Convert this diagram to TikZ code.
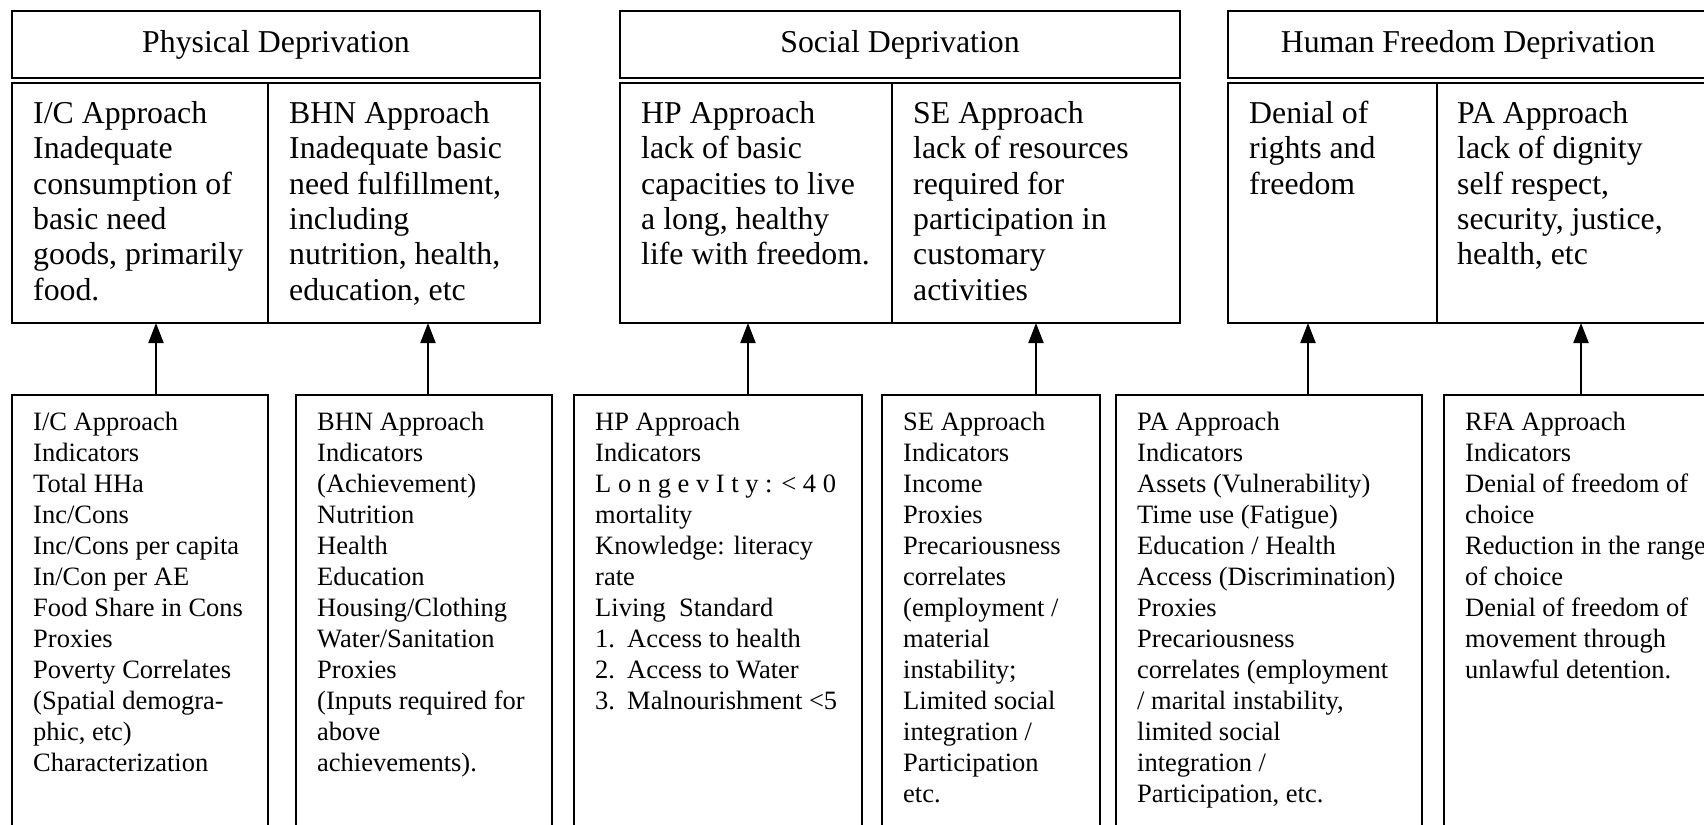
\documentclass[tikz,border=0pt]{standalone}
\usepackage{fontspec}
\setmainfont{Liberation Serif}
\usetikzlibrary{arrows.meta}
\newcommand{\lines}[1]{\begin{tabular}[t]{@{}l@{}}#1\end{tabular}}
\newcommand{\numitem}[2]{\makebox[32pt][l]{#1}#2}
\begin{document}
\begin{tikzpicture}[x=1pt,y=-1pt,
  box/.style={draw, line width=2pt, rectangle, inner sep=0pt, outer sep=0pt, anchor=north west},
  ttl/.style={inner sep=0pt, anchor=base, font=\fontsize{31.8}{35.3}\selectfont},
  big/.style={inner sep=0pt, anchor=base west, font=\fontsize{31.8}{35.3}\selectfont},
  small/.style={inner sep=0pt, anchor=base west, font=\fontsize{26.5}{31.05}\selectfont},
  arr/.style={line width=2pt, -{Triangle[length=20pt,width=15pt]}}
]
\useasboundingbox (0,0) rectangle (1704,824);
\fill[white] (0,0) rectangle (1704,824);
\clip (0,0) rectangle (1704,824);

% top title boxes
\node[box, minimum width=528pt, minimum height=67pt] (pt) at (12,11) {};
\node[box, minimum width=560pt, minimum height=67pt] (st) at (620,11) {};
\node[box, minimum width=480pt, minimum height=67pt] (ht) at (1228,11) {};
% approach cells
\node[box, minimum width=256pt, minimum height=240pt] (pl) at (12,83) {};
\node[box, minimum width=272pt, minimum height=240pt] (pr) at (268,83) {};
\node[box, minimum width=272pt, minimum height=240pt] (sl) at (620,83) {};
\node[box, minimum width=288pt, minimum height=240pt] (sr) at (892,83) {};
\node[box, minimum width=209pt, minimum height=240pt] (hl) at (1228,83) {};
\node[box, minimum width=271pt, minimum height=240pt] (hr) at (1437,83) {};
% indicator boxes
\node[box, minimum width=256pt, minimum height=460pt] (b1) at (12,395) {};
\node[box, minimum width=256pt, minimum height=460pt] (b2) at (296,395) {};
\node[box, minimum width=288pt, minimum height=460pt] (b3) at (574,395) {};
\node[box, minimum width=218pt, minimum height=460pt] (b4) at (882,395) {};
\node[box, minimum width=306pt, minimum height=460pt] (b5) at (1116,395) {};
\node[box, minimum width=290pt, minimum height=460pt] (b6) at (1444,395) {};

% titles
\node[ttl] (tp) at (276,53) {Physical Deprivation};
\node[ttl] (ts) at (900,53) {Social Deprivation};
\node[ttl] (th) at (1468,53) {Human Freedom Deprivation};

% approach texts
\node[big] (xpl) at (33,123.5) {\lines{I/C Approach\\Inadequate\\consumption of\\basic need\\goods, primarily\\food.}};
\node[big] (xpr) at (289,123.5) {\lines{BHN Approach\\Inadequate basic\\need fulfillment,\\including\\nutrition, health,\\education, etc}};
\node[big] (xsl) at (641,123.5) {\lines{HP Approach\\lack of basic\\capacities to live\\a long, healthy\\life with freedom.}};
\node[big] (xsr) at (913,123.5) {\lines{SE Approach\\lack of resources\\required for\\participation in\\customary\\activities}};
\node[big] (xhl) at (1249,123.5) {\lines{Denial of\\rights and\\freedom}};
\node[big] (xhr) at (1457,123.5) {\lines{PA Approach\\lack of dignity\\self respect,\\security, justice,\\health, etc}};

% indicator texts
\node[small] (y1) at (33,430) {\lines{I/C Approach\\Indicators\\Total HHa\\Inc/Cons\\Inc/Cons per capita\\In/Con per AE\\Food Share in Cons\\Proxies\\Poverty Correlates\\(Spatial demogra-\\phic, etc)\\Characterization}};
\node[small] (y2) at (317,430) {\lines{BHN Approach\\Indicators\\(Achievement)\\Nutrition\\Health\\Education\\Housing/Clothing\\Water/Sanitation\\Proxies\\(Inputs required for\\above\\achievements).}};
\node[small] (y3) at (595,430) {\lines{HP Approach\\Indicators\\L o n g e v I t y : < 4 0\\mortality\\Knowledge: literacy\\rate\\Living\ \ Standard\\\numitem{1.}{Access to health}\\\numitem{2.}{Access to Water}\\\numitem{3.}{Malnourishment <5}}};
\node[small] (y4) at (903,430) {\lines{SE Approach\\Indicators\\Income\\Proxies\\Precariousness\\correlates\\(employment /\\material\\instability;\\Limited social\\integration /\\Participation\\etc.}};
\node[small] (y5) at (1137,430) {\lines{PA Approach\\Indicators\\Assets (Vulnerability)\\Time use (Fatigue)\\Education / Health\\Access (Discrimination)\\Proxies\\Precariousness\\correlates (employment\\/ marital instability,\\limited social\\integration /\\Participation, etc.}};
\node[small] (y6) at (1465,430) {\lines{RFA Approach\\Indicators\\Denial of freedom of\\choice\\Reduction in the range\\of choice\\Denial of freedom of\\movement through\\unlawful detention.}};

% connectors
\coordinate (c1) at (156,395);
\coordinate (c2) at (428,395);
\coordinate (c3) at (748,395);
\coordinate (c4) at (1036,395);
\coordinate (c5) at (1308,395);
\coordinate (c6) at (1581,395);
\draw[arr] (c1) -- (c1 |- pl.south);
\draw[arr] (c2) -- (c2 |- pr.south);
\draw[arr] (c3) -- (c3 |- sl.south);
\draw[arr] (c4) -- (c4 |- sr.south);
\draw[arr] (c5) -- (c5 |- hl.south);
\draw[arr] (c6) -- (c6 |- hr.south);
\end{tikzpicture}
\end{document}
